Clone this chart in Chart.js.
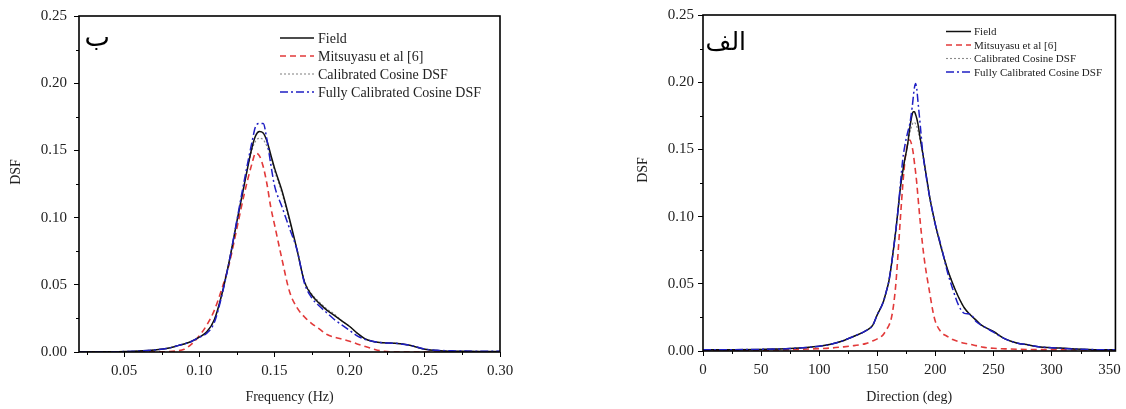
<!DOCTYPE html>
<html><head><meta charset="utf-8">
<script src="https://cdn.jsdelivr.net/npm/chart.js@4.4.1/dist/chart.umd.min.js"></script>
<style>
html,body{margin:0;padding:0;background:#fff;}
#wrap{position:relative;width:1126px;height:409px;overflow:hidden;}
.c{position:absolute;top:0;width:563px;height:409px;}
</style></head><body>
<div id="wrap">
<div class="c" style="left:0"><canvas id="c1"></canvas></div>
<div class="c" style="left:563px"><canvas id="c2"></canvas></div>
</div>
<script>
// ---------- data: frequency panel (ب) ----------
const freqHz = [0.02,0.03,0.04,0.05,0.06,0.07,0.08,0.085,0.09,0.095,0.10,0.105,0.11,0.115,0.12,0.125,0.13,0.135,0.1375,0.14,0.1425,0.145,0.1475,0.15,0.155,0.16,0.165,0.17,0.175,0.18,0.185,0.19,0.195,0.20,0.205,0.21,0.215,0.22,0.23,0.24,0.25,0.26,0.27,0.28,0.29,0.30];
const fieldFreq = [0,0,0.0001,0.0003,0.0008,0.0015,0.003,0.0045,0.006,0.008,0.011,0.015,0.024,0.043,0.068,0.097,0.125,0.152,0.161,0.164,0.163,0.157,0.147,0.137,0.120,0.099,0.076,0.052,0.042,0.036,0.031,0.027,0.023,0.019,0.014,0.010,0.008,0.007,0.0065,0.005,0.002,0.001,0.0006,0.0005,0.0004,0.0004];
const mitsFreq = [0,0,0,0,0,0.0001,0.0003,0.0008,0.002,0.006,0.012,0.020,0.031,0.047,0.066,0.092,0.118,0.140,0.148,0.146,0.138,0.125,0.108,0.095,0.069,0.045,0.033,0.026,0.021,0.017,0.013,0.011,0.0095,0.008,0.006,0.0042,0.0025,0.001,0,0,0,0,0,0,0,0];
const calFreq = [0,0,0.0001,0.0003,0.0008,0.0015,0.003,0.0045,0.006,0.008,0.011,0.015,0.024,0.043,0.068,0.097,0.125,0.150,0.157,0.159,0.158,0.153,0.145,0.135,0.118,0.097,0.076,0.053,0.043,0.037,0.032,0.028,0.023,0.019,0.014,0.010,0.008,0.007,0.0065,0.005,0.002,0.001,0.0006,0.0005,0.0004,0.0004];
const fullFreq = [0,0,0.0001,0.0003,0.0008,0.0015,0.003,0.0045,0.006,0.008,0.011,0.014,0.022,0.042,0.068,0.098,0.128,0.156,0.168,0.170,0.170,0.158,0.140,0.124,0.108,0.092,0.076,0.051,0.040,0.034,0.029,0.024,0.020,0.016,0.012,0.0095,0.008,0.007,0.0065,0.005,0.0022,0.0012,0.0008,0.0006,0.0005,0.0005];

// ---------- data: direction panel (الف) ----------
const dirDeg = [0,25,50,75,100,110,120,130,140,146,150,155,158,160,162,164,166,168,170,172,174,176,178,180,181,182,183,184,185,187,189,191,193,195,198,200,205,210,215,220,225,230,235,240,250,260,270,280,290,300,320,340,355];
const fieldDir = [0.001,0.001,0.0012,0.0018,0.0035,0.005,0.0075,0.011,0.015,0.019,0.027,0.036,0.045,0.052,0.063,0.076,0.09,0.106,0.122,0.134,0.144,0.153,0.166,0.176,0.178,0.178,0.176,0.173,0.169,0.158,0.148,0.137,0.126,0.115,0.102,0.094,0.077,0.062,0.050,0.040,0.032,0.027,0.023,0.019,0.0145,0.009,0.006,0.0045,0.003,0.0025,0.0015,0.001,0.001];
const mitsDir = [0.0005,0.0005,0.0006,0.001,0.0018,0.0022,0.003,0.004,0.0055,0.0075,0.009,0.012,0.016,0.019,0.024,0.034,0.05,0.074,0.1,0.124,0.143,0.154,0.157,0.152,0.147,0.140,0.133,0.125,0.115,0.096,0.079,0.065,0.054,0.044,0.029,0.022,0.014,0.011,0.0085,0.007,0.0058,0.005,0.004,0.003,0.002,0.0016,0.0013,0.0011,0.001,0.001,0.0009,0.0008,0.0008];
const calDir = [0.001,0.001,0.0012,0.0018,0.0035,0.005,0.0075,0.011,0.015,0.019,0.027,0.036,0.045,0.052,0.063,0.076,0.09,0.106,0.122,0.134,0.144,0.152,0.162,0.168,0.170,0.170,0.169,0.167,0.164,0.156,0.147,0.137,0.126,0.115,0.102,0.094,0.077,0.062,0.050,0.040,0.032,0.027,0.023,0.019,0.0145,0.009,0.006,0.0045,0.003,0.0025,0.0015,0.001,0.001];
const fullDir = [0.001,0.001,0.0012,0.0018,0.0035,0.005,0.0075,0.011,0.015,0.019,0.027,0.036,0.045,0.052,0.063,0.076,0.09,0.106,0.125,0.143,0.154,0.162,0.169,0.181,0.189,0.196,0.199,0.195,0.186,0.168,0.149,0.136,0.125,0.115,0.102,0.094,0.078,0.060,0.046,0.034,0.028,0.0275,0.022,0.019,0.014,0.009,0.006,0.0045,0.003,0.0025,0.0015,0.001,0.001];

const seriesNames = ["Field","Mitsuyasu et al [6]","Calibrated Cosine DSF","Fully Calibrated Cosine DSF"];
const yTicksMajor = [0,0.05,0.10,0.15,0.20,0.25];

const SERIF = "'Liberation Serif','Times New Roman',serif";
Chart.defaults.font.family = SERIF;
Chart.defaults.font.size = 15;
Chart.defaults.color = '#222';

const styles = [
  {borderColor:'#111', borderWidth:1.5, borderDash:[], order:1},
  {borderColor:'#e23a3a', borderWidth:1.6, borderDash:[6,4], order:3},
  {borderColor:'#8a8a8a', borderWidth:1.1, borderDash:[2,2], order:2},
  {borderColor:'#1f1fc4', borderWidth:1.5, borderDash:[8,3,2,3], order:0}
];

const framePlugin = {
  id:'frameTicks',
  afterDraw(chart){
    const {ctx, chartArea:a} = chart;
    ctx.save();
    ctx.strokeStyle = '#000';
    ctx.lineWidth = 1;
    ['x','y'].forEach(id=>{
      const s = chart.scales[id];
      const t = s.ticks.map(k=>k.value);
      if (t.length<2) return;
      const step = t[1]-t[0];
      const vals = [];
      for (let v = t[0]-step/2; v <= s.max+1e-9; v += step) if (v >= s.min-1e-9) vals.push(v);
      vals.forEach(v=>{
        const p = Math.round(s.getPixelForValue(v))+0.5;
        ctx.beginPath();
        if (id==='x'){ ctx.moveTo(p,a.bottom); ctx.lineTo(p,a.bottom+3); }
        else { ctx.moveTo(a.left,p); ctx.lineTo(a.left-3,p); }
        ctx.stroke();
      });
    });
    ctx.lineWidth = 1.6;
    ctx.strokeRect(a.left, a.top, a.right-a.left, a.bottom-a.top);
    // legend
    const lg = chart.options.plugins.customLegend;
    ctx.font = lg.fontSize + 'px ' + SERIF;
    ctx.textBaseline = 'middle';
    ctx.textAlign = 'left';
    chart.data.datasets.forEach((ds,i)=>{
      const y = lg.rows[i];
      ctx.beginPath();
      ctx.setLineDash(ds.borderDash||[]);
      ctx.strokeStyle = ds.borderColor;
      ctx.lineWidth = ds.borderWidth;
      ctx.moveTo(lg.x0,y); ctx.lineTo(lg.x1,y); ctx.stroke();
      ctx.setLineDash([]);
      ctx.fillStyle = '#222';
      ctx.fillText(ds.label, lg.tx, y+1);
    });
    // y-axis title
    const yt = chart.options.plugins.yTitle;
    ctx.save();
    ctx.translate(yt.x, yt.y);
    ctx.rotate(-Math.PI/2);
    ctx.font = '14px ' + SERIF;
    ctx.fillStyle = '#222';
    ctx.textAlign = 'center';
    ctx.textBaseline = 'middle';
    ctx.fillText(yt.text, 0, 0);
    ctx.restore();
    // panel letter
    const pl = chart.options.plugins.panelLabel;
    ctx.font = pl.size + "px 'DejaVu Sans', sans-serif";
    ctx.fillStyle = '#000';
    ctx.textBaseline = 'alphabetic';
    ctx.direction = 'rtl';
    ctx.textAlign = 'right';
    ctx.fillText(pl.text, pl.x, pl.y);
    ctx.restore();
  }
};

function makeChart(id, xs, ys, cfg){
  const datasets = ys.map((arr,i)=>Object.assign({
    label: seriesNames[i],
    data: xs.map((x,j)=>({x:x, y:arr[j]})),
    pointRadius:0, fill:false, cubicInterpolationMode:'monotone'
  }, styles[i]));
  return new Chart(document.getElementById(id), {
    type:'line',
    data:{datasets},
    plugins:[framePlugin],
    options:{
      responsive:true, maintainAspectRatio:false, animation:false, devicePixelRatio:1,
      layout:{padding:cfg.padding},
      plugins:{legend:{display:false}, tooltip:{enabled:false},
        customLegend:cfg.legend, panelLabel:cfg.panel, yTitle:cfg.ytitle},
      scales:{
        x:{type:'linear', min:cfg.xmin, max:cfg.xmax,
          afterFit(s){ s.height = cfg.xh; },
          ticks:{stepSize:cfg.xstep, includeBounds:false, padding:5, color:'#222',
            callback:cfg.xfmt, maxRotation:0, autoSkip:false},
          grid:{display:true, drawOnChartArea:false, drawTicks:true, tickLength:5, color:'#000', tickColor:'#000'},
          border:{display:false},
          title:{display:true, text:cfg.xtitle, color:'#222', font:{size:14}, padding:{top:4,bottom:3}}
        },
        y:{type:'linear', min:0, max:0.25,
          afterFit(s){ s.width = cfg.yw; },
          afterBuildTicks(s){ s.ticks = yTicksMajor.map(v=>({value:v})); },
          ticks:{padding:cfg.ypad, color:'#222', callback:v=>Number(v).toFixed(2)},
          grid:{display:true, drawOnChartArea:false, drawTicks:true, tickLength:5, color:'#000', tickColor:'#000'},
          border:{display:false},
          title:{display:false}
        }
      }
    }
  });
}

makeChart('c1', freqHz, [fieldFreq, mitsFreq, calFreq, fullFreq], {
  padding:{left:3, right:63, top:15, bottom:0}, yw:76, xh:57, ypad:7,
  xmin:0.02, xmax:0.30, xstep:0.05, xfmt:v=>Number(v).toFixed(2), xtitle:'Frequency (Hz)',
  legend:{x0:280, x1:314, tx:318, rows:[38,56,74,92], fontSize:14},
  panel:{text:'ب', x:110, y:46, size:27},
  ytitle:{text:'DSF', x:16, y:172}
});
makeChart('c2', dirDeg, [fieldDir, mitsDir, calDir, fullDir], {
  padding:{left:68, right:9, top:15, bottom:0}, yw:72, xh:58, ypad:4,
  xmin:0, xmax:355, xstep:50, xfmt:v=>String(Math.round(v)), xtitle:'Direction (deg)',
  legend:{x0:383, x1:408, tx:411, rows:[31.5,45,58.5,72], fontSize:11},
  panel:{text:'الف', x:183, y:50, size:25},
  ytitle:{text:'DSF', x:80, y:170}
});
</script>
</body></html>
